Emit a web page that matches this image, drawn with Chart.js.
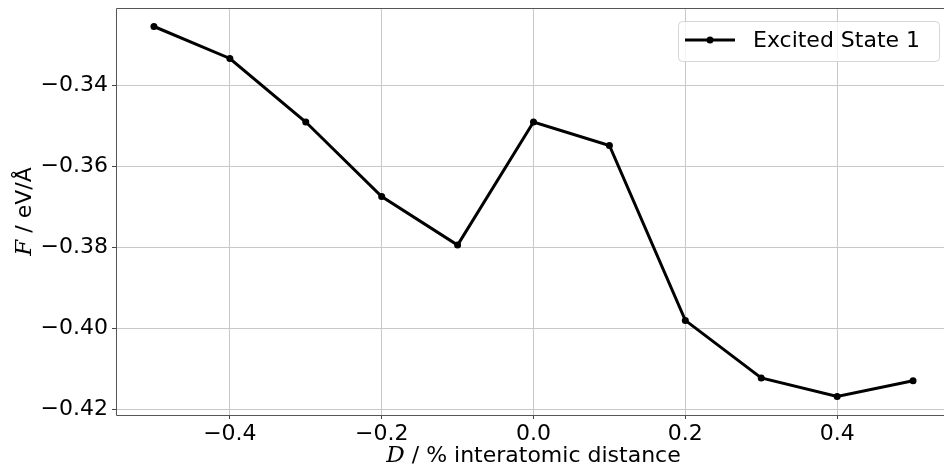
<!DOCTYPE html>
<html>
<head>
<meta charset="utf-8">
<script src="https://cdn.jsdelivr.net/npm/chart.js@4/dist/chart.umd.min.js"></script>
<style>
  html, body { margin: 0; padding: 0; background: #fff; overflow: hidden; }
  #c { display: block; }
</style>
</head>
<body>
<canvas id="c" width="960" height="468" style="width:960px;height:468px"></canvas>
<script>
// Displacement (% of interatomic distance) and force on Excited State 1
const displacement = [-0.5, -0.4, -0.3, -0.2, -0.1, 0.0, 0.1, 0.2, 0.3, 0.4, 0.5];
const force = [-0.3255, -0.3334, -0.3491, -0.3675, -0.3795, -0.3491, -0.3549, -0.3981, -0.4123, -0.4169, -0.4130];
const seriesLabel = 'Excited State 1';
const xTicks = [-0.4, -0.2, 0.0, 0.2, 0.4];
const yTicks = [-0.42, -0.40, -0.38, -0.36, -0.34];

const FONT = '"DejaVu Sans", sans-serif';
const fmt = (v, d) => (v < 0 ? '\u2212' : '') + Math.abs(v).toFixed(d);

// padded axis limits (5% margin on each side of the data)
const xr = Math.max(...displacement) - Math.min(...displacement);
const yr = Math.max(...force) - Math.min(...force);

// left, top and bottom spines (the right one sits past the page edge)
const framePlugin = {
  id: 'frame',
  afterDatasetsDraw(chart) {
    const { ctx, chartArea: a } = chart;
    const l = Math.round(a.left) + 0.5, t = Math.round(a.top) + 0.5;
    const b = Math.round(a.bottom) + 0.5, r = Math.round(a.right) + 0.5;
    ctx.save();
    ctx.strokeStyle = '#555';
    ctx.lineWidth = 1;
    ctx.beginPath();
    ctx.moveTo(r, t); ctx.lineTo(l, t); ctx.lineTo(l, b); ctx.lineTo(r, b);
    ctx.stroke();
    ctx.restore();
  }
};

const legendPlugin = {
  id: 'boxLegend',
  afterDraw(chart) {
    const { ctx, chartArea: a } = chart;
    const ds = chart.data.datasets[0];
    const w = 261, h = 40;
    const x = a.right - 12 - w, y = a.top + 13;
    ctx.save();
    ctx.beginPath();
    ctx.roundRect(x + 0.5, y + 0.5, w, h, 4);
    ctx.fillStyle = 'rgba(255,255,255,0.8)';
    ctx.fill();
    ctx.strokeStyle = 'rgba(204,204,204,0.8)';
    ctx.lineWidth = 1;
    ctx.stroke();
    const cy = y + h / 2 - 1;
    ctx.beginPath();
    ctx.moveTo(x + 7, cy);
    ctx.lineTo(x + 57, cy);
    ctx.strokeStyle = ds.borderColor;
    ctx.lineWidth = 3;
    ctx.stroke();
    ctx.beginPath();
    ctx.arc(x + 32, cy, 3.5, 0, Math.PI * 2);
    ctx.fillStyle = ds.borderColor;
    ctx.fill();
    ctx.font = '22px ' + FONT;
    ctx.fillStyle = '#000';
    ctx.textBaseline = 'middle';
    ctx.fillText(ds.label, x + 75, cy + 1);
    ctx.restore();
  }
};

// axis titles with an italic serif symbol followed by upright text
function drawMixed(ctx, parts, cx, cy) {
  let total = 0;
  parts.forEach(p => { ctx.font = p.font; p.w = ctx.measureText(p.t).width; total += p.w; });
  let x = cx - total / 2;
  parts.forEach(p => { ctx.font = p.font; ctx.fillText(p.t, x, cy); x += p.w; });
}
const titlePlugin = {
  id: 'axisTitles',
  afterDraw(chart) {
    const { ctx, chartArea: a } = chart;
    ctx.save();
    ctx.fillStyle = '#000';
    ctx.textBaseline = 'alphabetic';
    const serif = 'italic 23px "DejaVu Serif", serif';
    const sans = '22px ' + FONT;
    drawMixed(ctx, [{ t: 'D', font: serif }, { t: ' / % interatomic distance', font: sans }],
              (a.left + a.right) / 2, 462);
    ctx.translate(31, (a.top + a.bottom) / 2);
    ctx.rotate(-Math.PI / 2);
    drawMixed(ctx, [{ t: 'F', font: serif }, { t: ' / eV/Å', font: sans }], 0, 0);
    ctx.restore();
  }
};

new Chart(document.getElementById('c'), {
  type: 'line',
  data: {
    datasets: [{
      label: seriesLabel,
      data: displacement.map((x, i) => ({ x, y: force[i] })),
      borderColor: '#000',
      backgroundColor: '#000',
      borderWidth: 3,
      pointRadius: 3.5,
      pointHoverRadius: 3.5,
      pointBorderWidth: 0,
      tension: 0,
      fill: false
    }]
  },
  options: {
    responsive: false,
    animation: false,
    events: [],
    layout: { padding: { top: 8, right: 9, left: 0, bottom: 0 } },
    plugins: { legend: { display: false }, tooltip: { enabled: false } },
    scales: {
      x: {
        type: 'linear',
        min: Math.min(...displacement) - 0.05 * xr,
        max: Math.max(...displacement) + 0.05 * xr,
        afterBuildTicks: s => { s.ticks = xTicks.map(v => ({ value: v })); },
        afterFit: s => { s.height = 53; s.paddingLeft = 0; s.paddingRight = 0; },
        border: { display: false },
        grid: { color: '#c8c8c8', lineWidth: 1, tickLength: 4, tickColor: '#444' },
        ticks: {
          color: '#000', font: { family: FONT, size: 22 }, padding: 2,
          maxRotation: 0, autoSkip: false,
          callback: v => fmt(v, 1)
        }
      },
      y: {
        type: 'linear',
        min: Math.min(...force) - 0.05 * yr,
        max: Math.max(...force) + 0.05 * yr,
        afterBuildTicks: s => { s.ticks = yTicks.map(v => ({ value: v })); },
        afterFit: s => { s.width = 116; s.paddingTop = 0; s.paddingBottom = 0; },
        border: { display: false },
        grid: { color: '#c8c8c8', lineWidth: 1, tickLength: 4, tickColor: '#444' },
        ticks: {
          color: '#000', font: { family: FONT, size: 22 }, padding: 4,
          autoSkip: false,
          callback: v => fmt(v, 2)
        }
      }
    }
  },
  plugins: [framePlugin, legendPlugin, titlePlugin]
});
</script>
</body>
</html>
